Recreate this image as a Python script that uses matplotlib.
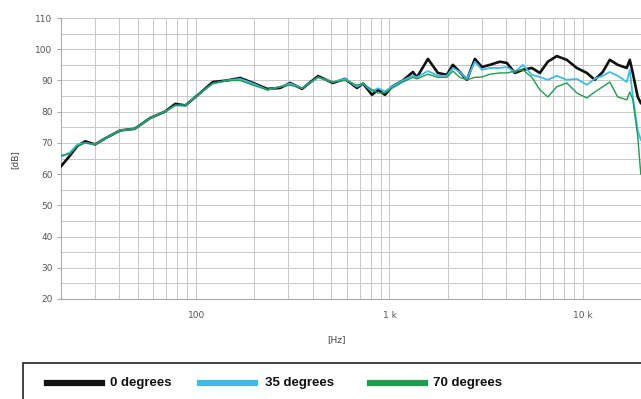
import matplotlib
matplotlib.use("Agg")
import matplotlib.pyplot as plt
from matplotlib.lines import Line2D
from matplotlib.patches import Rectangle
from matplotlib.ticker import FixedLocator, LogLocator, NullFormatter

# frequency response
freq = [20, 22.3, 24.3, 26.7, 30, 34, 40.5, 48, 58, 69, 78, 88, 105, 122, 145,
        169, 197, 233, 272, 306, 353, 427, 510, 589, 679, 730, 812, 872, 948,
        1030, 1174, 1322, 1387, 1581, 1781, 1982, 2128, 2313, 2515, 2766, 3008,
        3306, 3725, 4048, 4453, 4896, 5450, 5995, 6592, 7338, 8261, 9310,
        10490, 11530, 12680, 13790, 15160, 16880, 17500, 18130, 19240, 19950]

db_0 = [62.5, 66, 69, 70.5, 69.5, 71.5, 74, 74.5, 78, 80, 82.5, 82, 86, 89.5, 90,
        90.8, 89.2, 87.3, 87.6, 89.2, 87.3, 91.4, 89.2, 90.5, 87.6, 89, 85.4,
        87, 85.4, 88, 90, 92.7, 91, 96.9, 92.4, 91.8, 95, 92.7, 90.2, 96.9,
        94.3, 95, 96, 95.6, 92.4, 93.4, 94, 92.4, 96, 97.8, 96.6, 94, 92.4,
        90.2, 92.7, 96.6, 95, 94, 96.6, 92.4, 84.7, 82.8]

db_35 = [65.5, 67, 69.5, 70, 69.5, 71.5, 74, 74.5, 78, 80, 82, 82, 86, 89, 90,
         90.5, 89, 87, 88, 89, 87.5, 91, 89.5, 90.5, 88, 89, 86.5, 87.5, 86.5,
         88, 90, 91.5, 91, 93, 91.5, 91.5, 94, 92.7, 90.5, 96, 93.4, 94, 94,
         94.3, 92.7, 95, 91.8, 91.1, 90.2, 91.5, 90.2, 90.5, 88.6, 90.5, 91.5,
         92.7, 91.5, 89.5, 93.4, 85, 74, 71]

db_70 = [66, 66.5, 69, 70, 69.5, 71.5, 74, 74.5, 78, 80, 82, 82, 86, 89, 90,
         90, 88.5, 87, 88, 88.5, 87.5, 91, 89.5, 90, 88.5, 89, 87, 86, 86,
         87.5, 89.5, 91, 90.5, 92, 91, 91, 93, 91, 90.2, 91, 91.1, 92, 92.4,
         92.4, 93, 93.4, 91, 87, 84.7, 88, 89.2, 86, 84.4, 86.3, 88, 89.5,
         84.7, 83.8, 86.3, 84, 72, 60]

labels = ["0 degrees", "35 degrees", "70 degrees"]
colors = ["#111111", "#3dbde6", "#239a50"]
widths = [1.9, 1.3, 1.0]

yticks = list(range(20, 111, 10))
xticks = [100, 1000, 10000]
xticklabels = ["100", "1 k", "10 k"]

fig = plt.figure(figsize=(6.41, 3.99), dpi=100)
ax = fig.add_axes([61 / 641, 1 - 299 / 399, 580 / 641, 281 / 399])

ax.plot(freq, db_0, color=colors[0], lw=widths[0], zorder=3)
ax.plot(freq, db_35, color=colors[1], lw=widths[1], zorder=4)
ax.plot(freq, db_70, color=colors[2], lw=widths[2], zorder=5)

ax.set_xscale("log")
ax.set_xlim(20, 20000)
ax.set_ylim(20, 110)

ax.xaxis.set_major_locator(FixedLocator(xticks))
ax.set_xticklabels(xticklabels)
ax.xaxis.set_minor_locator(LogLocator(base=10, subs=range(2, 10)))
ax.xaxis.set_minor_formatter(NullFormatter())
ax.set_yticks(yticks)
ax.set_yticks(range(25, 110, 10), minor=True)

ax.grid(which="both", color="#c8c8c8", lw=0.7, zorder=0)
ax.tick_params(axis="both", which="both", labelsize=6.5, labelcolor="#555555",
               color="#aaaaaa", length=0)
ax.tick_params(axis="y", which="major", length=3, pad=3)
ax.tick_params(axis="x", which="major", pad=9)
for side in ["top", "right"]:
    ax.spines[side].set_visible(False)
for side in ["left", "bottom"]:
    ax.spines[side].set_color("#aaaaaa")
    ax.spines[side].set_linewidth(0.8)

fig.text(337 / 641, 1 - 340 / 399, "[Hz]", fontsize=6.5, color="#444444",
         ha="center", va="center")
fig.text(15 / 641, 1 - 160 / 399, "[dB]", fontsize=6.5, color="#444444",
         ha="center", va="center", rotation=90)

# legend box along the bottom
fig.add_artist(Rectangle((23 / 641, -0.05), 1.0, (399 - 363) / 399 + 0.05,
                         transform=fig.transFigure, fill=False,
                         edgecolor="#333333", lw=1.3))
line_x = [47, 200, 370]
text_x = [110, 265, 433]
ly = 1 - 383 / 399
for lab, col, lx, tx in zip(labels, colors, line_x, text_x):
    fig.add_artist(Line2D([lx / 641, (lx + 55) / 641], [ly, ly],
                          transform=fig.transFigure, color=col, lw=4.5))
    fig.text(tx / 641, ly, lab, fontsize=9.5, fontweight="bold",
             family="Liberation Sans", color="#111111", va="center")

fig.savefig("out.png", dpi=100)
